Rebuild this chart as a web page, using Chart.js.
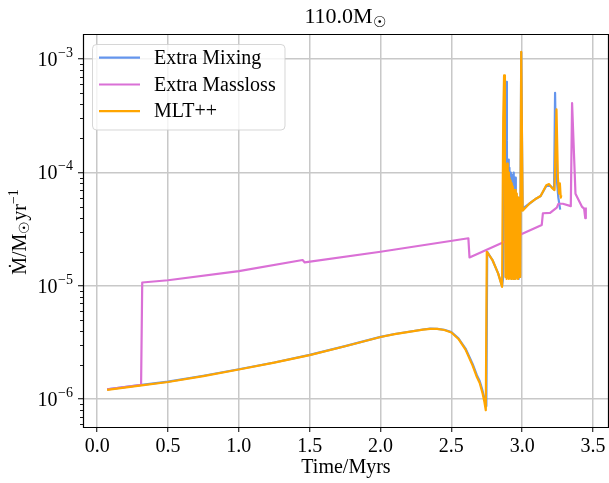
<!DOCTYPE html>
<html><head><meta charset="utf-8">
<script src="https://cdn.jsdelivr.net/npm/chart.js@4.4.1/dist/chart.umd.min.js"></script>
<style>html,body{margin:0;padding:0;background:#fff}</style>
</head><body>
<canvas id="c" width="609" height="483" style="display:block"></canvas>
<script>
// ---------- data ----------
const seriesNames = ['Extra Mixing', 'Extra Massloss', 'MLT++'];

const mixTime = [0.07,0.30,0.50,0.75,1.00,1.25,1.50,1.75,2.00,2.10,2.20,2.30,2.35,2.40,2.45,2.50,2.55,2.60,2.65,2.68,2.70,2.72,2.735,2.747,2.753,2.79,2.83,2.858,2.866,2.876,2.886,2.892,
  2.895,2.900,2.905,2.910,2.915,2.920,2.925,2.930,2.935,2.940,2.945,2.950,2.955,2.960,2.965,2.970,2.975,2.980,2.985,
  2.993,3.003,3.05,3.10,3.13,3.17,3.20,3.225,3.232,3.24,3.255,3.268];
const mixMdot = [1.22e-6,1.33e-6,1.43e-6,1.61e-6,1.84e-6,2.11e-6,2.46e-6,2.94e-6,3.55e-6,3.76e-6,3.94e-6,4.12e-6,4.19e-6,4.18e-6,4.10e-6,3.92e-6,3.45e-6,2.80e-6,2.05e-6,1.63e-6,1.45e-6,1.19e-6,1.0e-6,8.7e-7,2.0e-5,1.69e-5,1.29e-5,1.0e-5,1.2e-5,3.0e-4,6.3e-4,1.9e-4,
  1.2e-5,1.3e-4,1.2e-5,1.1e-4,1.2e-5,1.0e-4,1.15e-5,9.5e-5,1.2e-5,1.0e-4,1.15e-5,9.0e-5,1.2e-5,4.5e-5,1.2e-5,6.0e-5,1.15e-5,5.0e-5,1.2e-5,
  1.15e-3,4.8e-5,5.3e-5,5.9e-5,6.2e-5,7.6e-5,7.6e-5,7.1e-5,5.05e-4,1.0e-4,6.0e-5,4.7e-5];

const lossTime = [0.07,0.30,0.31,0.318,0.50,1.00,1.45,1.465,2.00,2.62,2.628,3.138,3.146,3.197,3.244,3.256,3.287,3.343,3.352,3.376,3.421,3.437,3.445,3.449];
const lossMdot = [1.22e-6,1.33e-6,1.35e-6,1.07e-5,1.12e-5,1.35e-5,1.69e-5,1.61e-5,2.0e-5,2.63e-5,1.78e-5,3.45e-5,4.37e-5,4.4e-5,4.9e-5,5.3e-5,5.3e-5,5.05e-5,4.1e-4,6.5e-5,5.0e-5,4.8e-5,3.95e-5,4.9e-5];

const mltTime = [0.07,0.30,0.50,0.75,1.00,1.25,1.50,1.75,2.00,2.10,2.20,2.30,2.35,2.40,2.45,2.50,2.55,2.60,2.65,2.68,2.70,2.72,2.733,2.743,2.750,2.79,2.83,2.858,2.866,2.872,2.878,2.882,
  2.886,2.890,2.894,2.898,2.902,2.906,2.910,2.914,2.918,2.922,2.926,2.930,2.934,2.938,2.942,2.946,2.950,2.954,2.958,2.962,2.966,2.970,2.974,2.978,2.982,2.986,
  2.993,3.003,3.05,3.10,3.13,3.17,3.19,3.21,3.228,3.242,3.252,3.260,3.266,3.272,3.276];
const mltMdot = [1.21e-6,1.32e-6,1.42e-6,1.60e-6,1.83e-6,2.10e-6,2.45e-6,2.93e-6,3.54e-6,3.75e-6,3.93e-6,4.11e-6,4.18e-6,4.17e-6,4.08e-6,3.88e-6,3.40e-6,2.74e-6,1.98e-6,1.57e-6,1.39e-6,1.13e-6,9.5e-7,8.0e-7,2.0e-5,1.69e-5,1.29e-5,9.8e-6,3.0e-4,7.2e-4,1.2e-4,1.2e-5,
  1.1e-4,1.15e-5,1.2e-4,1.2e-5,1.0e-4,1.15e-5,9.0e-5,1.2e-5,8.5e-5,1.15e-5,8.0e-5,1.2e-5,7.5e-5,1.15e-5,7.0e-5,1.2e-5,7.0e-5,1.15e-5,6.5e-5,1.2e-5,6.0e-5,1.15e-5,6.0e-5,1.2e-5,5.5e-5,1.2e-5,
  1.16e-3,4.6e-5,5.3e-5,5.9e-5,6.2e-5,7.7e-5,7.9e-5,7.3e-5,7.0e-5,3.6e-4,9.0e-5,6.5e-5,8.0e-5,6.0e-5,6.3e-5];

const xTickValues = [0.0,0.5,1.0,1.5,2.0,2.5,3.0,3.5];
const yMajorValues = [1e-6,1e-5,1e-4,1e-3];
const yMajorExponents = ['−6','−5','−4','−3'];

// ---------- styling ----------
const colors = ['#6495ED','#DA70D6','#FFA500'];
const SERIF = '"Liberation Serif", "DejaVu Serif", serif';
const FS = 19;
const FL = 20;

function pts(t, v){ return t.map((x,i)=>({x:x, y:v[i]})); }

const decor = {
  id: 'decor',
  afterDraw(chart){
    const ctx = chart.ctx, a = chart.chartArea, ys = chart.scales.y;
    ctx.save();
    // frame
    ctx.strokeStyle = '#000'; ctx.lineWidth = 1.2;
    ctx.beginPath();
    ctx.moveTo(a.left+0.5, a.top+0.5); ctx.lineTo(a.right-0.5, a.top+0.5);
    ctx.lineTo(a.right-0.5, a.bottom+0.5); ctx.lineTo(a.left+0.5, a.bottom+0.5); ctx.closePath();
    ctx.stroke();
    // minor y ticks
    ctx.lineWidth = 0.9;
    for (let e=-7; e<=-3; e++){
      for (let k=2;k<=9;k++){
        const v = k*Math.pow(10,e);
        if (v < ys.min || v > ys.max) continue;
        const py = Math.round(ys.getPixelForValue(v))+0.5;
        ctx.beginPath(); ctx.moveTo(a.left-3, py); ctx.lineTo(a.left, py); ctx.stroke();
      }
    }
    // y tick labels 10^n
    ctx.fillStyle = '#000';
    yMajorValues.forEach((v,i)=>{
      const py = ys.getPixelForValue(v);
      ctx.font = `${FS-5}px ${SERIF}`;
      const ew = ctx.measureText(yMajorExponents[i]).width;
      ctx.textAlign = 'left'; ctx.textBaseline = 'alphabetic';
      const right = 73;
      ctx.fillText(yMajorExponents[i], right-ew, py-2);
      ctx.font = `${FS+1}px ${SERIF}`;
      const bw = ctx.measureText('10').width;
      ctx.fillText('10', right-ew-bw-0.5, py+7);
    });
    // title 110.0M_sun
    ctx.font = `22px ${SERIF}`;
    const t1 = '110.0M';
    const w1 = ctx.measureText(t1).width;
    ctx.font = `15px ${SERIF}`;
    const w2 = ctx.measureText('☉').width;
    let tx = 345 - (w1+w2)/2;
    ctx.font = `22px ${SERIF}`;
    ctx.fillText(t1, tx, 23);
    ctx.font = `15px ${SERIF}`;
    ctx.fillText('☉', tx+w1, 27);
    // y axis label
    ctx.save();
    ctx.translate(26, 232); ctx.rotate(-Math.PI/2);
    const segs = [['Ṁ/M',FL,0],['☉',FL-6,3],['yr',FL,0],['−1',FL-6,-8]];
    let tot = 0;
    segs.forEach(s=>{ ctx.font = `${s[1]}px ${SERIF}`; s.w = ctx.measureText(s[0]).width; tot += s.w; });
    let sx = -tot/2;
    segs.forEach(s=>{ ctx.font = `${s[1]}px ${SERIF}`; ctx.fillText(s[0], sx, s[2]); sx += s.w; });
    ctx.restore();
    // legend
    const bx=92.5, by=44.5, bw2=192.5, bh=85.5, r=4;
    ctx.beginPath();
    ctx.moveTo(bx+r,by); ctx.lineTo(bx+bw2-r,by); ctx.arcTo(bx+bw2,by,bx+bw2,by+r,r);
    ctx.lineTo(bx+bw2,by+bh-r); ctx.arcTo(bx+bw2,by+bh,bx+bw2-r,by+bh,r);
    ctx.lineTo(bx+r,by+bh); ctx.arcTo(bx,by+bh,bx,by+bh-r,r);
    ctx.lineTo(bx,by+r); ctx.arcTo(bx,by,bx+r,by,r); ctx.closePath();
    ctx.fillStyle = 'rgba(255,255,255,0.8)'; ctx.fill();
    ctx.strokeStyle = 'rgba(204,204,204,0.8)'; ctx.lineWidth = 1; ctx.stroke();
    const rows = [57.7, 84.5, 111.2];
    chart.data.datasets.forEach((ds,i)=>{
      ctx.strokeStyle = ds.borderColor; ctx.lineWidth = 2.2;
      ctx.beginPath(); ctx.moveTo(99, rows[i]); ctx.lineTo(140, rows[i]); ctx.stroke();
      ctx.fillStyle = '#000'; ctx.font = `${FL}px ${SERIF}`;
      ctx.textBaseline = 'middle'; ctx.textAlign='left';
      ctx.fillText(ds.label, 154, rows[i]+1);
    });
    ctx.restore();
  }
};

new Chart(document.getElementById('c'), {
  type: 'scatter',
  data: {
    datasets: [
      {label: seriesNames[0], data: pts(mixTime, mixMdot), borderColor: colors[0], order: 3},
      {label: seriesNames[1], data: pts(lossTime, lossMdot), borderColor: colors[1], order: 2},
      {label: seriesNames[2], data: pts(mltTime, mltMdot), borderColor: colors[2], order: 1}
    ].map(d=>Object.assign(d,{showLine:true, pointRadius:0, borderWidth:2.2, borderJoinStyle:'round', backgroundColor:d.borderColor, tension:0}))
  },
  options: {
    responsive: false, animation: false, devicePixelRatio: 1,
    layout: {padding: {left:0, right:0, top:34, bottom:0}},
    plugins: {legend:{display:false}, title:{display:false}, tooltip:{enabled:false}},
    scales: {
      x: {
        type: 'linear', min: -0.1, max: 3.6126,
        afterBuildTicks: s => { s.ticks = xTickValues.map(v=>({value:v})); },
        afterFit: s => { s.height = 56; },
        ticks: {callback: v => Number(v).toFixed(1), color:'#000', font:{family:SERIF, size:FS+1}, padding:3, maxRotation:0, autoSkip:false},
        grid: {color:'#c8c8c8', lineWidth:1.5, tickColor:'#000', tickLength:5, tickWidth:1},
        border: {display:false},
        title: {display:true, text:'Time/Myrs', color:'#000', font:{family:SERIF, size:FL}, padding:{top:0,bottom:3}}
      },
      y: {
        type: 'logarithmic', min: 5.69e-7, max: 1.665e-3,
        afterBuildTicks: s => { s.ticks = yMajorValues.map(v=>({value:v})); },
        afterFit: s => { s.width = 83; },
        ticks: {callback: () => '', padding: 0},
        grid: {color:'#c8c8c8', lineWidth:1.5, tickColor:'#000', tickLength:5, tickWidth:1},
        border: {display:false}
      }
    }
  },
  plugins: [decor]
});
</script>
</body></html>
